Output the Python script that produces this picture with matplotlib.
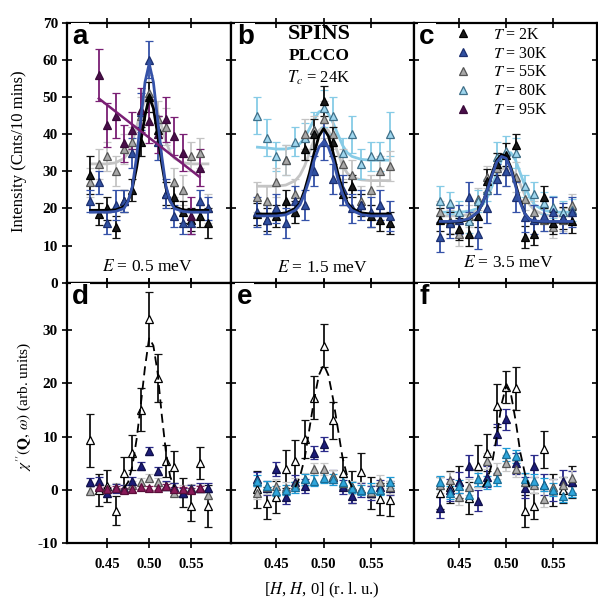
import numpy as np
import matplotlib
matplotlib.use("Agg")
import matplotlib.pyplot as plt
from matplotlib.lines import Line2D

plt.rcParams['font.family'] = ['Liberation Serif', 'DejaVu Serif']
plt.rcParams['mathtext.fontset'] = 'stix'
plt.rcParams['axes.unicode_minus'] = False

# wave vector points along [H, H, 0]
H = [0.43, 0.44, 0.45, 0.46, 0.47, 0.48, 0.49, 0.50, 0.51, 0.52, 0.53, 0.54, 0.55, 0.56, 0.57]
H_95 = [0.44, 0.45, 0.46, 0.47, 0.48, 0.49, 0.50, 0.51, 0.52, 0.53, 0.54, 0.55, 0.56]

H_fit = [0.43, 0.44, 0.45, 0.46, 0.47, 0.475, 0.48, 0.485, 0.49, 0.495, 0.50,
         0.505, 0.51, 0.515, 0.52, 0.525, 0.53, 0.54, 0.55, 0.56, 0.57]

# ---- top row: raw intensity (Cnts/10 mins) ----
# E = 0.5 meV
a_2K = [29, 18.5, 20, 15, 22, 25, 38, 50, 41, 24, 23, 19, 17, 18, 16]
a_2K_err = [5, 3, 3, 3, 3, 3, 4, 4, 4, 3, 3, 3, 3, 3, 4]
a_30K = [22, 27, 16, 21, 22, 35, 46, 60, 38, 24, 18, 16, 16, 22, 20]
a_30K_err = [3, 3, 3, 4, 3, 4, 5, 5, 5, 4, 3, 3, 3, 3, 3]
a_55K = [27, 32, 34, 30, 36, 38, 45, 51, 44, 42, 27, 25, 34, 35, 20]
a_55K_err = [4, 4, 4, 4, 4, 4, 5, 5, 5, 5, 4, 4, 4, 4, 4]
a_95K = [56, 42.5, 45, 37.5, 41, 46.5, 43.5, 40, 44, 39.5, 35, 18, 31]
a_95K_err = [7, 6, 6, 5, 5, 6, 6, 5, 6, 5, 5, 5, 5]
a_2K_fit = [19.5, 19.5, 19.5, 19.6, 20.5, 22, 25.5, 31, 38, 45, 50, 47, 40, 32, 25.5, 22, 20.5, 19.6, 19.5, 19.5, 19.5]
a_30K_fit = [19, 19, 19, 19.2, 20, 22, 26, 34, 44, 54, 59, 54, 44, 34, 26, 22, 20, 19.2, 19, 19, 19]
a_55K_fit = [32, 32, 32, 32.3, 33.5, 35, 38, 42, 46, 49, 50, 49, 46, 42, 38, 35, 33.5, 32.3, 32, 32, 32]
a_95K_line_x = [0.44, 0.56]
a_95K_line_y = [49.6, 28.5]

# E = 1.5 meV
b_2K = [18.5, 17, 18, 22, 19, 36, 40, 49, 38, 24, 26, 21, 18, 17, 16]
b_2K_err = [3, 3, 3, 3, 3, 3, 4, 4, 4, 3, 3, 3, 3, 3, 3]
b_30K = [19, 17, 20, 16, 22, 21, 30, 38, 28, 25, 20, 21, 19, 21, 18]
b_30K_err = [4, 4, 4, 4, 4, 4, 4, 5, 4, 4, 4, 4, 4, 4, 4]
b_55K = [23, 22, 27, 33, 24, 40, 41, 44, 40, 32, 29, 22, 25, 30, 31.5]
b_55K_err = [4, 4, 4, 4, 4, 4, 4, 5, 4, 4, 4, 4, 4, 4, 4]
b_80K = [45, 39, 34, 33, 38, 39, 41, 47, 45, 35, 40, 32, 34, 34, 40]
b_80K_err = [5, 5, 4, 4, 4, 4, 5, 5, 5, 4, 5, 4, 4, 4, 6]
b_2K_fit = [18.5, 18.5, 18.5, 18.8, 20, 21.5, 25, 29.5, 35, 39.5, 41.5, 39.5, 35, 29.5, 25, 21.5, 20, 18.8, 18.5, 18.5, 18.5]
b_30K_fit = [18, 18, 18, 18.3, 19.5, 21, 24, 28, 33, 36.5, 38, 36.5, 33, 28, 24, 21, 19.5, 18.3, 18, 18, 18]
b_55K_fit = [26, 26, 26, 26.3, 27.5, 29, 31.5, 35, 38.5, 41, 42, 41, 38.5, 35, 31.5, 29.5, 28.3, 27.7, 27.5, 27.5, 27.5]
b_80K_fit = [36.5, 36.3, 36, 36, 36.5, 37.5, 39, 41.5, 44, 46, 46.5, 45.5, 43, 40, 37, 35, 34, 33.2, 33, 33, 33]

# E = 3.5 meV
c_2K = [17, 16, 14.5, 13, 18, 27.5, 32, 34.5, 37, 12.3, 13.2, 23, 16, 17.5, 16.5]
c_2K_err = [3, 3, 3, 3, 3, 3, 3, 3, 3, 3, 3, 3, 3, 3, 3]
c_30K = [12.3, 16, 17, 23, 13.2, 20, 28, 30, 23, 17.7, 17, 18, 19, 17.5, 19]
c_30K_err = [4, 4, 4, 4, 4, 4, 4, 4, 4, 4, 4, 4, 4, 4, 4]
c_55K = [19, 16.5, 13, 18, 22.5, 28.5, 31, 30, 28.5, 22.5, 19, 17, 15, 17, 21]
c_55K_err = [3, 3, 3, 3, 3, 3, 4, 4, 4, 3, 3, 3, 3, 3, 3]
c_80K = [22, 21.5, 19, 16.5, 22, 25, 33.8, 35.5, 35, 26, 24, 21.5, 20.4, 19, 19.5]
c_80K_err = [4, 3, 3, 3, 3, 3, 4, 4, 4, 3, 3, 3, 3, 3, 3]
c_2K_fit = [16.3, 16.3, 16.4, 17, 19, 21.5, 25, 29.5, 33, 34.5, 34, 31, 26.5, 22, 18.5, 17, 16.5, 16.3, 16.3, 16.3, 16.3]
c_30K_fit = [16.5, 16.5, 16.6, 17.2, 19, 21.5, 25, 29, 32.5, 34, 33.5, 30.5, 26, 21.5, 18.5, 17, 16.6, 16.5, 16.5, 16.5, 16.5]
c_55K_fit = [18, 18, 18, 18.3, 19.5, 21, 23.5, 26.5, 29, 30.5, 31, 30.5, 29, 26.5, 23.5, 21, 19.5, 18.3, 18, 18, 18]
c_80K_fit = [19, 19, 19, 19.2, 20, 21, 23, 26, 29.5, 33, 35, 35, 33, 29.5, 26, 23, 21, 19.5, 19, 19, 19]

# ---- bottom row: chi''(Q, w) ----
d_2K = [9.3, 0, 0.7, -3.9, 3.2, 7, 15, 32, 21, 5.4, 4.2, -0.5, -3, 5.1, -3]
d_2K_err = [5, 3, 3, 2.7, 3, 3.3, 4, 5, 4.5, 3, 3, 2.7, 2.8, 3, 4]
d_30K = [1.5, 1.7, -0.5, 0.3, 0.2, 1.7, 4.5, 7.3, 3.5, 0.8, 0.5, -0.5, 0.2, 0.4, 0.4]
d_30K_err = [0.8] * 15
d_55K = [-0.2, 0.5, 0.2, 0.6, 0.3, 1, 1.5, 2.2, 1.5, 0.8, -0.5, 0.2, 0.4, 0.3, -1]
d_55K_err = [0.7] * 15
d_95K = [0.5, 0.2, 0.3, 0, 0.1, 0.5, 0.3, 0.4, 0.7, 0.2, 0.1, 0, 0.3]
d_95K_err = [0.4] * 13
d_dash_x = [0.47, 0.475, 0.48, 0.485, 0.49, 0.495, 0.50, 0.505, 0.51, 0.515, 0.52, 0.525, 0.53]
d_dash_y = [0.3, 1.5, 4.5, 9.5, 16, 23, 28.5, 27, 22, 14, 7, 2.5, 0.5]

e_2K = [0.1, -2.4, -1.4, 3.9, 5.4, 9.5, 17.3, 27, 13, 3.2, 0.5, 3.3, -0.5, -1.7, -1.8]
e_2K_err = [3.5, 3, 3, 3.5, 4, 3.5, 4, 4, 3.5, 3, 3, 3.7, 3, 3, 3]
e_30K = [2, 0.4, 3.9, -1.4, 1.4, 0.7, 7, 8.6, 2.5, 0.5, -1.1, 0, -0.5, 0.5, 0.3]
e_30K_err = [1.3] * 15
e_55K = [-0.5, 0.5, 0.8, 0.3, 1, 2, 3.9, 3.9, 2.6, 1.2, 0.5, 0.2, -0.3, 1.5, 0.5]
e_55K_err = [1.2] * 15
e_80K = [1.7, 0.7, -0.2, 0, 0.5, 2, 1.7, 2.3, 2, 1.4, 0.4, 0, 0.2, 0, 1.4]
e_80K_err = [1.0] * 15
e_dash_x = [0.47, 0.475, 0.48, 0.485, 0.49, 0.495, 0.50, 0.505, 0.51, 0.515, 0.52, 0.525, 0.53]
e_dash_y = [0.5, 2.5, 6, 11.5, 17, 21.5, 23.5, 21.5, 17, 11.5, 6, 2.5, 0.5]

f_2K = [-0.5, 0.5, 1.5, -1.5, 4.5, 7, 15.8, 19.2, 19, -3.9, -3, 7.6, 0, 0, 1.5]
f_2K_err = [3, 3, 3, 3, 4, 3.5, 4, 3, 4, 3, 2.5, 3.5, 3, 2.5, 3]
f_30K = [-3.3, 0, 1.4, 4.5, -2, 2.5, 10.4, 13.2, 5, 0.4, 4.5, 1, 0, 1.7, 1.5]
f_30K_err = [2] * 15
f_55K = [1, 1.8, -1.4, 0.5, 2, 5.4, 3.5, 5, 3.9, 1.5, 1, -1.7, 0.5, 1, 2.3]
f_55K_err = [1.5] * 15
f_80K = [1.4, -0.5, 0.7, -1, 2, 1.4, 2, 6.7, 6.3, 2, 1.7, 1, 0, -1.1, -0.2]
f_80K_err = [1.2] * 15
f_dash_x = [0.475, 0.48, 0.485, 0.49, 0.495, 0.50, 0.505, 0.51, 0.515, 0.52, 0.525]
f_dash_y = [0.5, 2, 5, 10, 16, 19.5, 18, 13, 7, 3, 0.5]

legend_labels = ['$T$ = 2K', '$T$ = 30K', '$T$ = 55K', '$T$ = 80K', '$T$ = 95K']

# colours: (marker face, marker edge, error bar / fit line)
top_style = {
    '2K': ('#1a1a1a', '#000000', '#111111'),
    '30K': ('#3050a0', '#1c2f70', '#3552a8'),
    '55K': ('#a8a8a8', '#555555', '#c4c4c4'),
    '80K': ('#9fd6ee', '#3f6f88', '#86cbe6'),
    '95K': ('#4a0e4a', '#3a0a3a', '#7a1f74'),
}
bot_style = {
    '2K': ('white', '#000000', '#111111'),
    '30K': ('#1c1c78', '#10104a', '#2a2a8a'),
    '55K': ('#b0b0b0', '#555555', '#c8c8c8'),
    '80K': ('#2fa6dc', '#1a6e96', '#1e9ad6'),
    '95K': ('#8a1a5a', '#5a0f3a', '#8c1a5c'),
}


def series(ax, x, y, err, st, ms=5.3):
    face, edge, line = st
    ax.errorbar(x, y, yerr=err, fmt='^', ms=ms, mfc=face, mec=edge, mew=0.9,
                ecolor=line, elinewidth=1.3, capsize=3.2, capthick=1.3, zorder=3)


fig = plt.figure(figsize=(5.98, 5.99), dpi=100)

lefts = [0.112, 0.387, 0.6915]
widths = [0.275, 0.3045, 0.306]
xlims = [(0.402, 0.598), (0.4025, 0.595), (0.4015, 0.596)]
top_axes = []
bot_axes = []
for i in range(3):
    top_axes.append(fig.add_axes([lefts[i], 0.528, widths[i], 0.434]))
    bot_axes.append(fig.add_axes([lefts[i], 0.093, widths[i], 0.435]))

ax_a, ax_b, ax_c = top_axes
ax_d, ax_e, ax_f = bot_axes

# panel a
series(ax_a, H, a_55K, a_55K_err, top_style['55K'])
ax_a.plot(H_fit, a_55K_fit, color=top_style['55K'][2], lw=2)
series(ax_a, H, a_2K, a_2K_err, top_style['2K'])
series(ax_a, H, a_30K, a_30K_err, top_style['30K'])
ax_a.plot(H_fit, a_2K_fit, color='black', lw=2, zorder=4)
ax_a.plot(H_fit, a_30K_fit, color=top_style['30K'][2], lw=2, zorder=4)
series(ax_a, H_95, a_95K, a_95K_err, top_style['95K'])
ax_a.plot(a_95K_line_x, a_95K_line_y, color=top_style['95K'][2], lw=1.8, zorder=4)

# panel b
series(ax_b, H, b_80K, b_80K_err, top_style['80K'])
ax_b.plot(H_fit, b_80K_fit, color=top_style['80K'][2], lw=2)
series(ax_b, H, b_55K, b_55K_err, top_style['55K'])
ax_b.plot(H_fit, b_55K_fit, color=top_style['55K'][2], lw=2)
series(ax_b, H, b_2K, b_2K_err, top_style['2K'])
series(ax_b, H, b_30K, b_30K_err, top_style['30K'])
ax_b.plot(H_fit, b_2K_fit, color='black', lw=2, zorder=4)
ax_b.plot(H_fit, b_30K_fit, color=top_style['30K'][2], lw=2, zorder=4)

# panel c
series(ax_c, H, c_55K, c_55K_err, top_style['55K'])
ax_c.plot(H_fit, c_55K_fit, color=top_style['55K'][2], lw=2)
series(ax_c, H, c_80K, c_80K_err, top_style['80K'])
ax_c.plot(H_fit, c_80K_fit, color=top_style['80K'][2], lw=2)
series(ax_c, H, c_2K, c_2K_err, top_style['2K'])
series(ax_c, H, c_30K, c_30K_err, top_style['30K'])
ax_c.plot(H_fit, c_2K_fit, color='black', lw=2, zorder=4)
ax_c.plot(H_fit, c_30K_fit, color=top_style['30K'][2], lw=2, zorder=4)

# panel d
series(ax_d, H, d_2K, d_2K_err, bot_style['2K'])
ax_d.plot(d_dash_x, d_dash_y, color='black', lw=1.3, ls=(0, (5, 3)), zorder=4)
series(ax_d, H, d_55K, d_55K_err, bot_style['55K'])
series(ax_d, H, d_30K, d_30K_err, bot_style['30K'])
series(ax_d, H_95, d_95K, d_95K_err, bot_style['95K'])

# panel e
series(ax_e, H, e_2K, e_2K_err, bot_style['2K'])
ax_e.plot(e_dash_x, e_dash_y, color='black', lw=1.3, ls=(0, (5, 3)), zorder=4)
series(ax_e, H, e_30K, e_30K_err, bot_style['30K'])
series(ax_e, H, e_55K, e_55K_err, bot_style['55K'])
series(ax_e, H, e_80K, e_80K_err, bot_style['80K'])

# panel f
series(ax_f, H, f_2K, f_2K_err, bot_style['2K'])
ax_f.plot(f_dash_x, f_dash_y, color='black', lw=1.3, ls=(0, (5, 3)), zorder=4)
series(ax_f, H, f_30K, f_30K_err, bot_style['30K'])
series(ax_f, H, f_55K, f_55K_err, bot_style['55K'])
series(ax_f, H, f_80K, f_80K_err, bot_style['80K'])

# axes cosmetics
for i, ax in enumerate(top_axes + bot_axes):
    ax.set_xlim(*xlims[i % 3])
    ax.set_xticks([0.45, 0.50, 0.55])
    for s in ax.spines.values():
        s.set_linewidth(1.6)
    ax.tick_params(direction='inout', length=7, width=1.2, top=True, right=True)
    ax.set_facecolor('white')

for ax in top_axes:
    ax.set_ylim(0, 70)
    ax.set_xticklabels([])
for ax in bot_axes:
    ax.set_ylim(-10, 38.8)
    ax.set_xticklabels(['0.45', '0.50', '0.55'], fontweight='bold', fontsize=10.5)
    ax.tick_params(axis='x', pad=7)

ax_a.set_yticks(range(0, 71, 10))
ax_a.tick_params(axis='y', right=False, labelsize=11, pad=3)
for lab in ax_a.get_yticklabels():
    lab.set_fontweight('bold')
for ax in (ax_b, ax_c):
    ax.set_yticks([20, 40, 60])
    ax.set_yticklabels([])

ax_d.set_yticks(range(-10, 31, 10))
ax_d.tick_params(axis='y', right=False, labelsize=11, pad=3)
for lab in ax_d.get_yticklabels():
    lab.set_fontweight('bold')
for ax in (ax_e, ax_f):
    ax.set_yticks([0, 10, 20, 30])
    ax.set_yticklabels([])

# panel letters
for ax, letter in zip(top_axes + bot_axes, 'abcdef'):
    ax.text(0.03, 0.995, letter, transform=ax.transAxes, ha='left', va='top',
            fontsize=20, fontweight='bold', family='Liberation Sans', zorder=6,
            bbox=dict(facecolor='white', edgecolor='none', pad=1))

# energy labels
for ax, txt, xp, yp in [(ax_a, '$E$ = 0.5 meV', 0.49, 0.062),
                        (ax_b, '$E$ = 1.5 meV', 0.50, 0.055),
                        (ax_c, '$E$ = 3.5 meV', 0.516, 0.076)]:
    ax.text(xp, yp, txt, transform=ax.transAxes, ha='center', va='center',
            fontsize=12.5, zorder=6,
            bbox=dict(facecolor='white', edgecolor='none', pad=2))

# instrument / sample text
ax_b.text(0.48, 0.957, 'SPINS', transform=ax_b.transAxes, ha='center', va='center',
          fontsize=16, fontweight='bold', zorder=6)
ax_b.text(0.48, 0.872, 'PLCCO', transform=ax_b.transAxes, ha='center', va='center',
          fontsize=12.5, fontweight='bold', zorder=6)
ax_b.text(0.48, 0.787, '$T_c$ = 24K', transform=ax_b.transAxes, ha='center', va='center',
          fontsize=12, zorder=6)

# legend in panel c
handles = [Line2D([], [], ls='none', marker='^', ms=5.3, mfc=top_style[k][0],
                  mec=top_style[k][1], mew=0.9) for k in ['2K', '30K', '55K', '80K', '95K']]
ax_c.legend(handles, legend_labels, loc='upper left', bbox_to_anchor=(0.225, 0.985),
            frameon=False, fontsize=11.5, handlelength=1.0, handletextpad=1.4,
            labelspacing=0.18, borderpad=0, borderaxespad=0)

# axis labels
fig.text(0.032, 0.748, 'Intensity (Cnts/10 mins)', rotation=90, ha='center', va='center',
         fontsize=12)
fig.text(0.039, 0.322, "$\\chi''(\\mathbf{Q},\\,\\omega)$ (arb. units)", rotation=90,
         ha='center', va='center', fontsize=11)
fig.text(0.539, 0.014, '[$H$, $H$, 0] (r. l. u.)', ha='center', va='center', fontsize=12)

fig.savefig('out.png', dpi=100)
